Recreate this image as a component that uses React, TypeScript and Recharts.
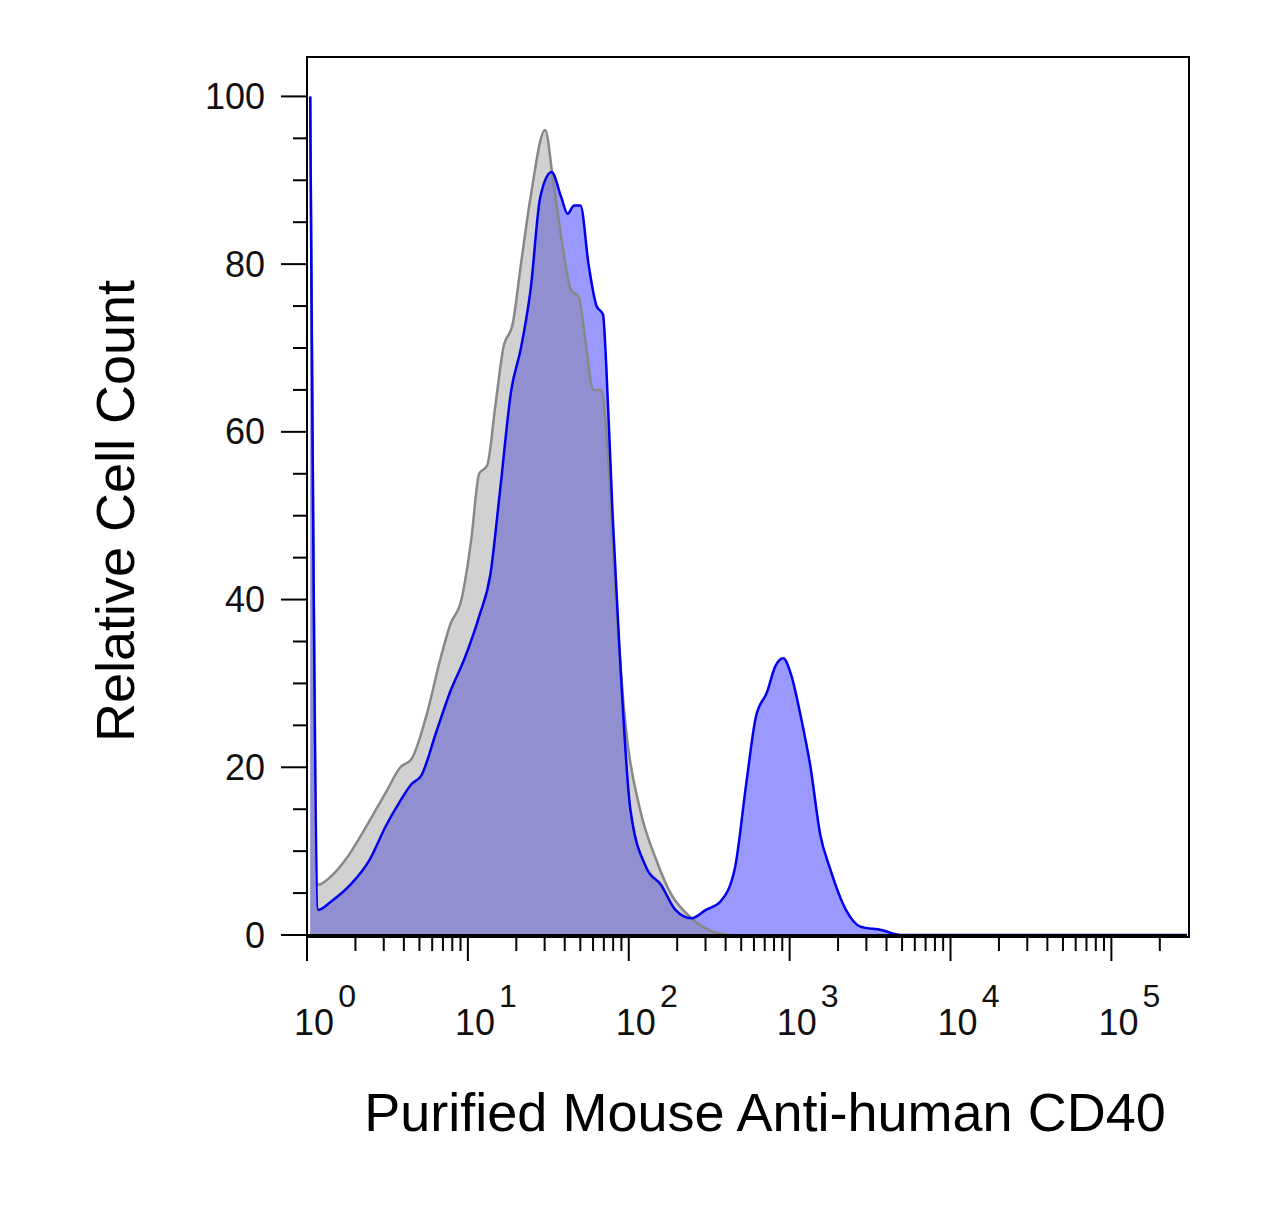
import React from "react";
import { ComposedChart, Area, XAxis, YAxis } from "recharts";

// x in decades (log10 of fluorescence), y is relative cell count
const isotypeX = [0.02, 0.07, 0.15, 0.24, 0.37, 0.49, 0.58, 0.65, 0.74, 0.83, 0.89, 0.96, 1.02, 1.07, 1.12, 1.17, 1.22, 1.28, 1.33, 1.39, 1.48, 1.53, 1.59, 1.64, 1.69, 1.73, 1.78, 1.83, 1.86, 1.92, 1.98, 2.07, 2.17, 2.26, 2.39, 2.51, 2.63];
const isotypeY = [100, 6, 7, 9, 13, 17, 20, 21, 26, 33, 37, 40, 47, 55, 56, 63, 70, 73, 80, 88, 96, 90, 82, 77, 76, 71, 65, 65, 60, 40, 25, 15, 9, 5, 2, 0.5, 0];

const cd40X = [0.02, 0.07, 0.15, 0.27, 0.39, 0.49, 0.58, 0.65, 0.71, 0.80, 0.89, 0.98, 1.07, 1.14, 1.20, 1.27, 1.33, 1.39, 1.45, 1.52, 1.58, 1.62, 1.66, 1.70, 1.75, 1.80, 1.84, 1.86, 1.90, 1.94, 2.01, 2.11, 2.20, 2.29, 2.39, 2.48, 2.57, 2.66, 2.73, 2.79, 2.86, 2.91, 2.96, 3.01, 3.07, 3.13, 3.19, 3.25, 3.35, 3.44, 3.57, 3.69, 5.47];
const cd40Y = [100, 3, 4, 6, 9, 13, 16, 18, 19, 24, 29, 33, 38, 43, 53, 65, 70, 77, 88, 91, 88, 86, 87, 87, 80, 75, 74, 68, 50, 35, 15, 8, 6, 3, 2, 3, 4, 8, 18, 26, 29, 32, 33, 31, 26, 20, 12, 8, 3, 1, 0.6, 0, 0];

const yTicks = [0, 20, 40, 60, 80, 100];
const decades = [0, 1, 2, 3, 4, 5];

const isotype = isotypeX.map((x, i) => ({ x, y: isotypeY[i] }));
const cd40 = cd40X.map((x, i) => ({ x, y: cd40Y[i] }));

const yAll: number[] = [];
for (let v = 0; v <= 100; v += 5) yAll.push(v);
const xAll: number[] = [];
decades.forEach((d) => {
  for (let k = 1; k <= 9; k++) {
    const v = d + Math.log10(k);
    if (v <= 5.47) xAll.push(v);
  }
});

const FONT = "Arial, Liberation Sans";

const YTick = ({ x, y, payload }: any) => {
  const major = yTicks.includes(payload.value);
  return (
    <g>
      <line x1={x + 8} x2={x - (major ? 18 : 6)} y1={y} y2={y} stroke="#000" strokeWidth={2} />
      {major && (
        <text x={x - 34} y={y} textAnchor="end" dominantBaseline="central" fontSize={36} fontFamily={FONT} fill="#111">
          {payload.value}
        </text>
      )}
    </g>
  );
};

const XTick = ({ x, y, payload }: any) => {
  const major = Math.abs(payload.value - Math.round(payload.value)) < 1e-6;
  return (
    <g>
      <line x1={x} x2={x} y1={y - 8} y2={y + (major ? 18 : 8)} stroke="#000" strokeWidth={2} />
      {major && (
        <text x={x + 18} y={y + 92} textAnchor="middle" fontSize={36} fontFamily={FONT} fill="#111">
          10
          <tspan dx={4} dy={-28} fontSize={32}>{Math.round(payload.value)}</tspan>
        </text>
      )}
    </g>
  );
};

export default function App() {
  return (
    <div style={{ position: "absolute", left: 0, top: 0, width: 1266, height: 1229, background: "#fff", fontFamily: FONT }}>
      <ComposedChart width={1266} height={1229} margin={{ top: 57, right: 79, bottom: 0, left: 0 }}>
        <XAxis xAxisId="b" type="number" dataKey="x" domain={[0, 5.47]} ticks={xAll} tick={<XTick />} tickLine={false} axisLine={{ stroke: "#000", strokeWidth: 2 }} height={294} interval={0} allowDataOverflow />
        <YAxis yAxisId="l" type="number" domain={[0, 104.7]} ticks={yAll} tick={<YTick />} tickLine={false} axisLine={{ stroke: "#000", strokeWidth: 2 }} width={307} interval={0} allowDataOverflow />
        <Area xAxisId="b" yAxisId="l" data={cd40} dataKey="y" type="monotone" fill="#9999ff" fillOpacity={1} stroke="none" isAnimationActive={false} />
        <Area xAxisId="b" yAxisId="l" data={isotype} dataKey="y" type="monotone" fill="#818181" fillOpacity={0.37} stroke="#888" strokeWidth={2.5} isAnimationActive={false} />
        <Area xAxisId="b" yAxisId="l" data={cd40} dataKey="y" type="monotone" fill="none" stroke="#0000ee" strokeWidth={2.5} isAnimationActive={false} />
      </ComposedChart>
      <div style={{ position: "absolute", left: 306, top: 56, width: 880, height: 878, border: "2px solid #000", pointerEvents: "none" }} />
      <div style={{ position: "absolute", left: 115, top: 511, transform: "translate(-50%,-50%) rotate(-90deg)", fontSize: 54, whiteSpace: "nowrap", color: "#000" }}>
        Relative Cell Count
      </div>
      <div style={{ position: "absolute", left: 765, top: 1112, transform: "translate(-50%,-50%)", fontSize: 54, whiteSpace: "nowrap", color: "#000" }}>
        Purified Mouse Anti-human CD40
      </div>
    </div>
  );
}
